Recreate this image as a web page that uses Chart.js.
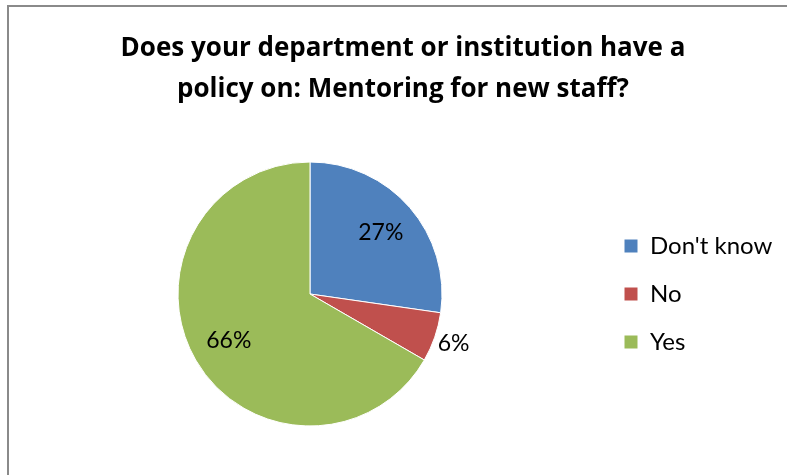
<!DOCTYPE html>
<html>
<head>
<meta charset="utf-8">
<script src="https://cdn.jsdelivr.net/npm/chart.js@4/dist/chart.umd.min.js"></script>
<style>
  html, body { margin: 0; padding: 0; background: #fff; overflow: hidden; }
  #wrap { position: relative; width: 787px; height: 475px; }
  #frame {
    position: absolute; left: 7px; top: 5px; width: 820px; height: 520px;
    border-left: 2px solid #8a8a8a; border-top: 2px solid #8a8a8a;
    pointer-events: none;
  }
</style>
</head>
<body>
<div id="wrap">
  <canvas id="chart" width="787" height="475"></canvas>
  <div id="frame"></div>
</div>
<script>
// 回答データ
const titleLines = ['Does your department or institution have a', 'policy on: Mentoring for new staff?'];
const categories = ["Don't know", 'No', 'Yes'];
const percents = [27, 6, 66];
const sliceColors = ['#4F81BD', '#C0504D', '#9BBB59'];
// ラベルを外側に出す項目
const outsideLabels = [false, true, false];

Chart.defaults.font.family = 'Lato, "DejaVu Sans", sans-serif';
Chart.defaults.color = '#000';

// 凡例の幅を固定する
const fixedLegendWidth = {
  id: 'fixedLegendWidth',
  beforeInit(chart) {
    const legend = chart.legend;
    if (!legend) return;
    const origFit = legend.fit;
    legend.fit = function () {
      origFit.call(this);
      this.width = 186;
    };
  }
};

// 各スライスにパーセント表示
const sliceLabels = {
  id: 'sliceLabels',
  afterDatasetsDraw(chart) {
    const ctx = chart.ctx;
    const meta = chart.getDatasetMeta(0);
    ctx.save();
    ctx.font = '23px Lato';
    ctx.fillStyle = '#000';
    ctx.textAlign = 'center';
    ctx.textBaseline = 'middle';
    meta.data.forEach((arc, i) => {
      const { x, y, startAngle, endAngle, outerRadius } = arc.getProps(['x', 'y', 'startAngle', 'endAngle', 'outerRadius'], true);
      const mid = (startAngle + endAngle) / 2;
      const r = outsideLabels[i] ? outerRadius + 20 : outerRadius * 0.71;
      ctx.fillText(percents[i] + '%', x + Math.cos(mid) * r, y + Math.sin(mid) * r);
    });
    ctx.restore();
  }
};

new Chart(document.getElementById('chart'), {
  type: 'pie',
  data: {
    labels: categories,
    datasets: [{
      data: percents,
      backgroundColor: sliceColors,
      borderColor: '#fff',
      borderWidth: 1,
      hoverOffset: 0
    }]
  },
  options: {
    responsive: false,
    animation: false,
    layout: { padding: { left: 20, right: 1, top: 0, bottom: 48.5 } },
    plugins: {
      title: {
        display: true,
        text: titleLines,
        color: '#000',
        font: { family: '"Open Sans", Lato, sans-serif', size: 26, weight: 'bold', lineHeight: '41px' },
        padding: { top: 28.5, bottom: 51 }
      },
      legend: {
        position: 'right',
        fullSize: false,
        labels: {
          boxWidth: 14,
          boxHeight: 14,
          padding: 24,
          font: { size: 24 },
          color: '#000'
        }
      },
      tooltip: { enabled: false }
    }
  },
  plugins: [fixedLegendWidth, sliceLabels]
});
</script>
</body>
</html>
